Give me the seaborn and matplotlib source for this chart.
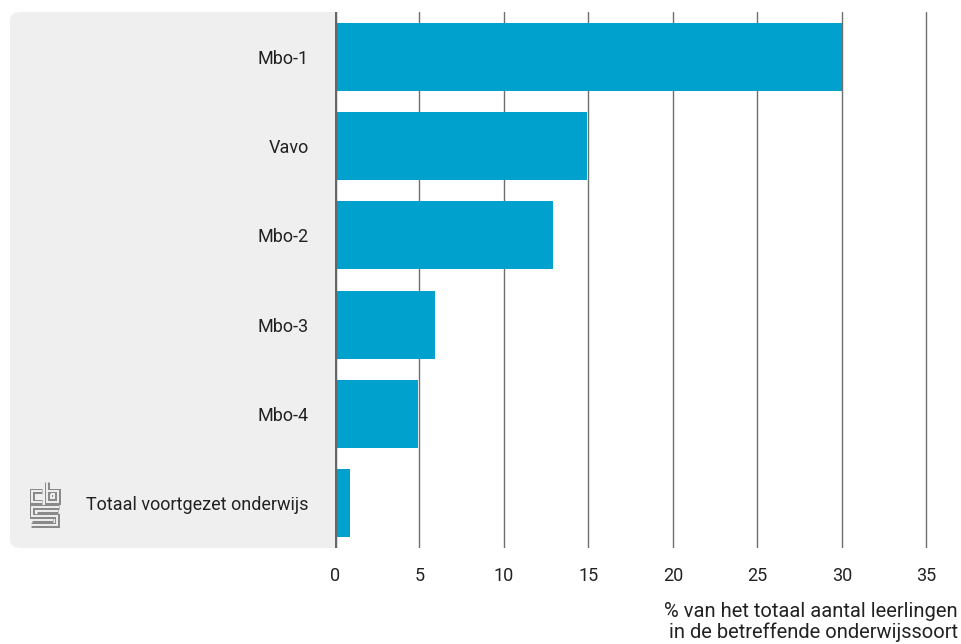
import matplotlib
matplotlib.use("Agg")
import matplotlib.pyplot as plt
import pandas as pd
import seaborn as sns
from matplotlib.patches import FancyBboxPatch

categories = ["Mbo-1", "Vavo", "Mbo-2", "Mbo-3", "Mbo-4", "Totaal voortgezet onderwijs"]
values = [30.0, 14.9, 12.9, 5.9, 4.9, 0.9]
xticks = [0, 5, 10, 15, 20, 25, 30, 35]
xlabel = "% van het totaal aantal leerlingen\nin de betreffende onderwijssoort"

BAR = "#00a1cd"
PANEL = "#efefef"
GRID = "#6e6e6e"
TEXT = "#222222"


def draw_logo(fig):
    # rough cbs logo, outlined strokes
    lax = fig.add_axes([29 / 961, 1 - 528 / 644, 32 / 961, 48 / 644])
    lax.set_xlim(-1, 33)
    lax.set_ylim(49, -1)
    lax.axis("off")
    paths = [
        [(13, 10), (2, 10), (2, 22), (13, 22)],
        [(18, 1), (18, 22), (30, 22), (30, 10), (18, 10)],
        [(22.5, 14), (25.5, 14), (25.5, 18), (22.5, 18), (22.5, 14)],
        [(31, 27), (2, 27), (2, 36), (29, 36), (29, 46), (1, 46)],
        [(7, 31), (30, 31)],
        [(2, 41), (24, 41)],
    ]
    for p in paths:
        xs, ys = zip(*p)
        lax.plot(xs, ys, color="#8a8a8a", lw=3.6, solid_capstyle="butt", solid_joinstyle="miter")
        lax.plot(xs, ys, color=PANEL, lw=1.4, solid_capstyle="butt", solid_joinstyle="miter")


def main():
    sns.set_theme(style="white")
    plt.rcParams["font.family"] = ["Roboto", "DejaVu Sans"]

    df = pd.DataFrame({"categorie": categories, "waarde": values})

    fig = plt.figure(figsize=(9.61, 6.44), dpi=100)
    panel = FancyBboxPatch(
        (10 / 961, 1 - 548 / 644),
        340 / 961,
        536 / 644,
        boxstyle="round,pad=0,rounding_size=0.012",
        transform=fig.transFigure,
        facecolor=PANEL,
        edgecolor="none",
        zorder=-5,
    )
    fig.patches.append(panel)

    ax = fig.add_axes([335 / 961, 1 - 548 / 644, 625 / 961, 536 / 644])
    ax.set_facecolor("white")
    sns.barplot(data=df, y="categorie", x="waarde", orient="h", color=BAR,
                saturation=1, width=0.76, linewidth=0, ax=ax)

    ax.set_xlim(0, 37)
    ax.set_ylim(5.5, -0.5)
    ax.set_xticks(xticks)
    ax.set_xticklabels([str(t) for t in xticks], fontsize=13, color=TEXT)
    ax.set_yticklabels(categories, fontsize=13, color=TEXT)
    ax.tick_params(axis="x", length=0, pad=14)
    ax.tick_params(axis="y", length=0, pad=19)
    for t in xticks[1:]:
        ax.axvline(t, color=GRID, lw=1, zorder=0.5)
    ax.axvline(0, color="#666666", lw=3.2, zorder=3)
    for s in ax.spines.values():
        s.set_visible(False)
    ax.set_ylabel("")
    ax.set_xlabel("")

    fig.text(958 / 961, 1 - 622 / 644, xlabel, ha="right", va="center",
             fontsize=14.5, color=TEXT, linespacing=1.05)

    draw_logo(fig)

    fig.savefig("out.png", dpi=100)
    plt.close(fig)


if __name__ == "__main__":
    main()
